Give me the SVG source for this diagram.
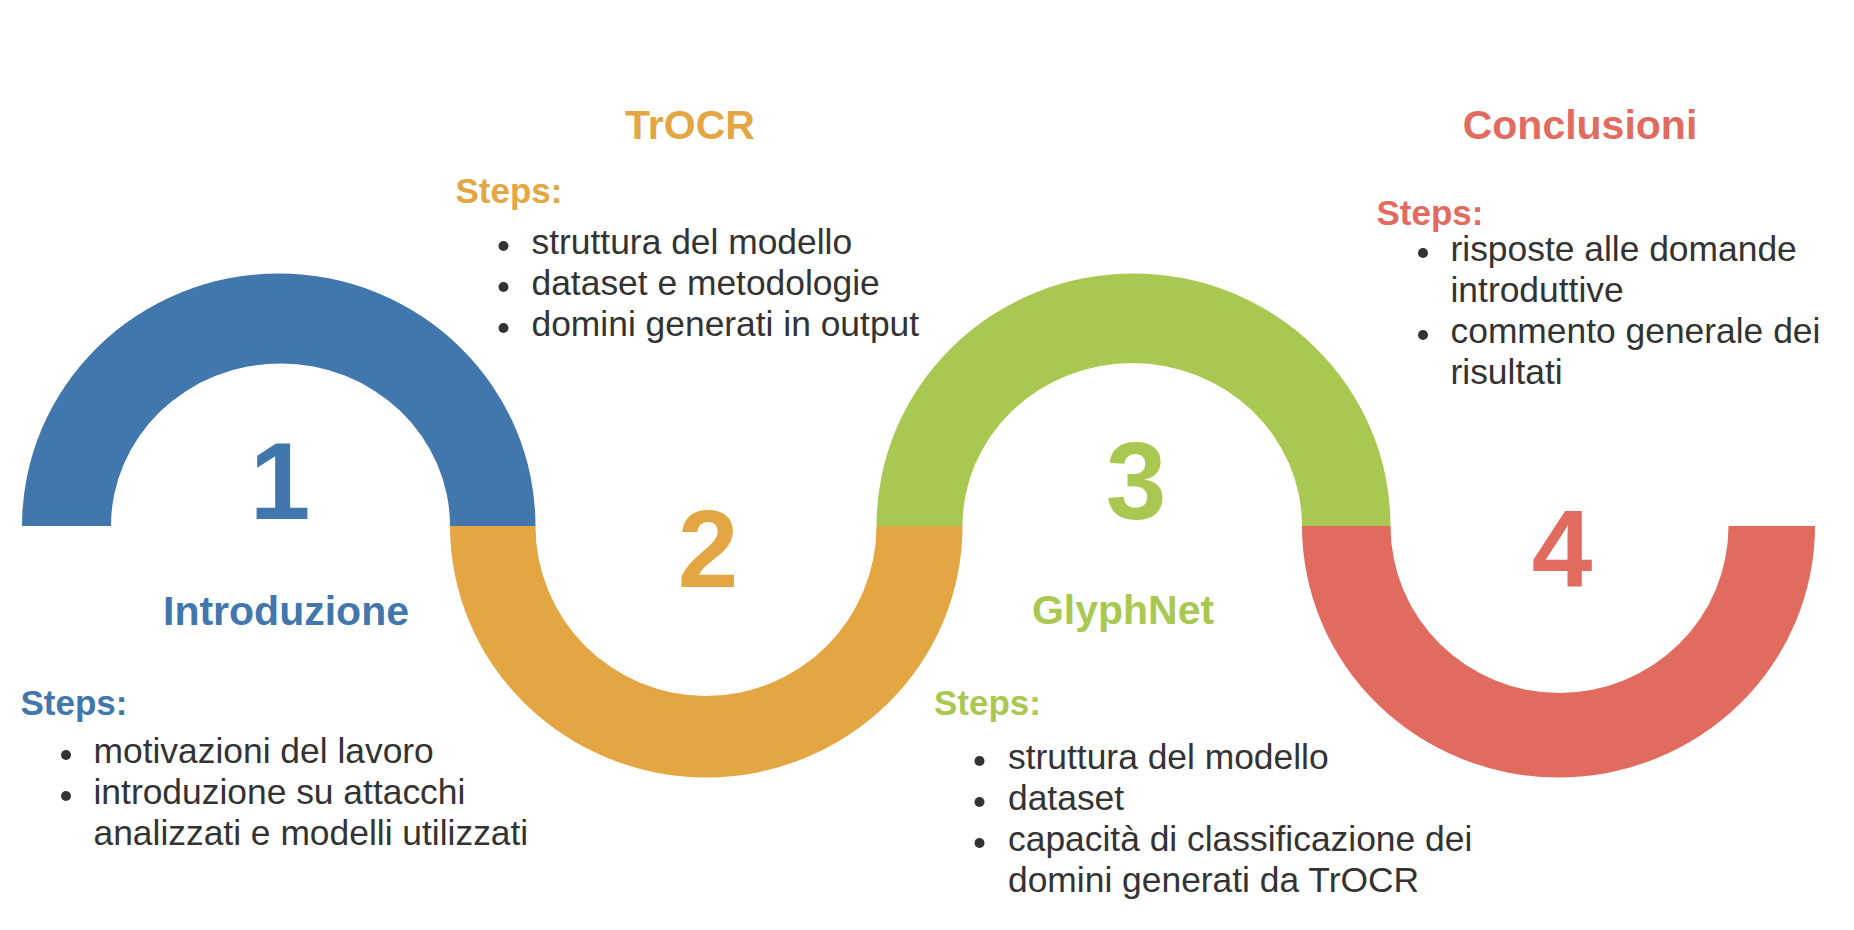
<svg xmlns="http://www.w3.org/2000/svg" width="1854" height="930" viewBox="0 0 1854 930">
<style>
text{font-family:"Liberation Sans",Arial,sans-serif}
.num{font-size:109px;font-weight:bold;text-anchor:middle}
.title{font-size:41px;font-weight:bold;text-anchor:middle}
.steps{font-size:35px;font-weight:bold}
.item{font-size:35.4px;fill:#333333}
.dot{fill:#333333}
.blue{fill:#4277AD}
.orange{fill:#E3A642}
.green{fill:#A9C852}
.red{fill:#E16B5E}
</style>
<rect width="1854" height="930" fill="#ffffff"/>
<g id="connectors"></g>
<g id="step1">
<path class="blue" d="M22,526 A256.75,252.5 0 0 1 535.5,526 L450,526 A169.5,162.5 0 0 0 111,526 Z"/>
<text class="num blue" x="280" y="519">1</text>
<text class="title blue" x="286" y="625">Introduzione</text>
<text class="steps blue" x="20.5" y="715">Steps:</text>
<circle class="dot" cx="66" cy="755" r="5"/>
<text class="item" x="93.5" y="763">motivazioni del lavoro</text>
<circle class="dot" cx="66" cy="796" r="5"/>
<text class="item" x="93.5" y="804">introduzione su attacchi</text>
<text class="item" x="93.5" y="845">analizzati e modelli utilizzati</text>
</g>
<g id="step2">
<path class="orange" d="M450,526 A256.25,251.5 0 0 0 962.5,526 L876.5,526 A170.5,170 0 0 1 535.5,526 Z"/>
<text class="num orange" x="708" y="587">2</text>
<text class="title orange" x="690" y="139">TrOCR</text>
<text class="steps orange" x="455.5" y="203">Steps:</text>
<circle class="dot" cx="503.5" cy="246" r="5"/>
<text class="item" x="531.5" y="254">struttura del modello</text>
<circle class="dot" cx="503.5" cy="287" r="5"/>
<text class="item" x="531.5" y="295">dataset e metodologie</text>
<circle class="dot" cx="503.5" cy="328" r="5"/>
<text class="item" x="531.5" y="336">domini generati in output</text>
</g>
<g id="step3">
<path class="green" d="M876.5,526 A257,252.5 0 0 1 1390.5,526 L1302,526 A169.75,163 0 0 0 962.5,526 Z"/>
<text class="num green" x="1136" y="519">3</text>
<text class="title green" x="1123" y="624">GlyphNet</text>
<text class="steps green" x="934" y="715">Steps:</text>
<circle class="dot" cx="979.5" cy="761" r="5"/>
<text class="item" x="1008" y="769">struttura del modello</text>
<circle class="dot" cx="979.5" cy="802" r="5"/>
<text class="item" x="1008" y="810">dataset</text>
<circle class="dot" cx="979.5" cy="843" r="5"/>
<text class="item" x="1008" y="851">capacità di classificazione dei</text>
<text class="item" x="1008" y="892">domini generati da TrOCR</text>
</g>
<g id="step4">
<path class="red" d="M1302,526 A256.5,251.5 0 0 0 1815,526 L1728.5,526 A169,167 0 0 1 1390.5,526 Z"/>
<text class="num red" x="1562" y="586">4</text>
<text class="title red" x="1580" y="139">Conclusioni</text>
<text class="steps red" x="1376.5" y="225">Steps:</text>
<circle class="dot" cx="1423" cy="253" r="5"/>
<text class="item" x="1450.5" y="261">risposte alle domande</text>
<text class="item" x="1450.5" y="302">introduttive</text>
<circle class="dot" cx="1423" cy="335" r="5"/>
<text class="item" x="1450.5" y="343">commento generale dei</text>
<text class="item" x="1450.5" y="384">risultati</text>
</g>
</svg>
